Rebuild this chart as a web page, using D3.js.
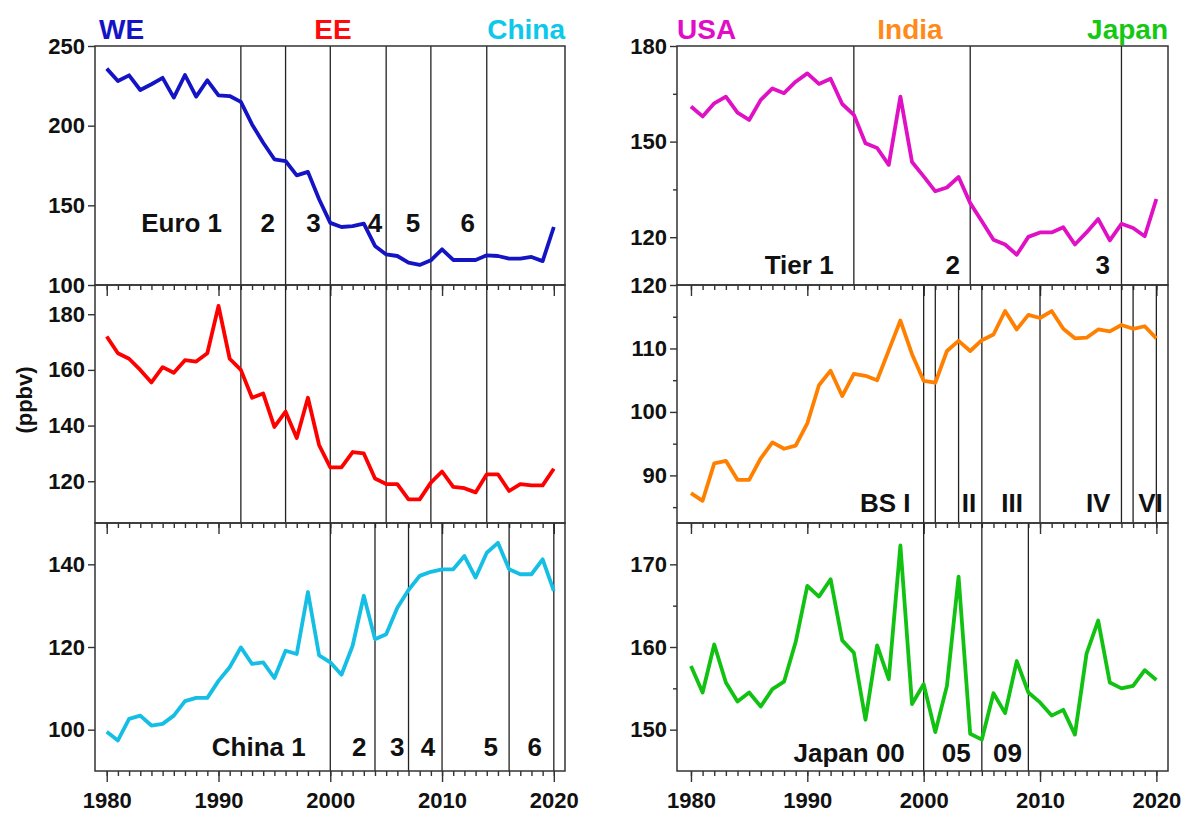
<!DOCTYPE html>
<html>
<head>
<meta charset="utf-8">
<script src="https://cdn.jsdelivr.net/npm/d3@7"></script>
<style>
    body { margin: 0; background: #fff; }
    svg { display: block; font-family: "Liberation Sans", Arial, sans-serif; font-weight: bold; }
</style>
</head>
<body>
<svg id="chart" width="1182" height="814"></svg>
<script>
// Years on the x axis
const years = d3.range(1980, 2021);
const decades = [1980, 1990, 2000, 2010, 2020];

// Annual mean values (ppbv), 1980-2020
const weValues = [235.8, 228, 231.6, 222.4, 226, 230, 217.6, 231.8, 218.2, 228.5,
    219, 218.6, 214.9, 200.8, 189.3, 178.9, 177.8, 168.8, 171, 153.8,
    139, 136.4, 137, 138.5, 124.5, 119.2, 118.2, 114, 112.6, 115.5,
    122.4, 115.7, 115.7, 115.7, 118.6, 118.2, 116.5, 116.5, 117.6, 115, 136.4];
const eeValues = [172, 166, 164, 160, 155.5, 161, 159, 163.5, 163, 166,
    183, 164, 160, 150, 151.5, 139.5, 145, 135.5, 150, 133,
    125, 125, 130.5, 130, 121, 119, 119, 113.5, 113.5, 119.5,
    123.5, 118, 117.5, 116, 122.5, 122.5, 116.5, 119, 118.5, 118.5, 124.5];
const chinaValues = [99.5, 97.4, 102.6, 103.4, 101, 101.4, 103.4, 106.9, 107.7, 107.7,
    111.8, 115.1, 119.9, 115.9, 116.3, 112.5, 119.1, 118.3, 133.3, 118,
    116.3, 113.3, 120.3, 132.4, 121.9, 123.1, 129.5, 133.8, 137.2, 138.2,
    138.8, 138.8, 142, 136.8, 142.8, 145.2, 138.8, 137.6, 137.6, 141.2, 133.6];
const usaValues = [161, 157.9, 162, 164.1, 159.1, 156.8, 163.1, 166.7, 165.2, 168.8,
    171.4, 168.1, 169.7, 161.8, 158.4, 149.5, 148, 142.7, 164.1, 143.6,
    139.1, 134.4, 135.6, 138.9, 130.7, 125, 119.2, 117.7, 114.5, 120.1,
    121.5, 121.5, 123.1, 117.7, 121.5, 125.7, 119, 124.2, 122.9, 120.3, 132];
const indiaValues = [87.2, 86, 91.9, 92.3, 89.3, 89.3, 92.7, 95.2, 94.2, 94.7,
    98.2, 104.2, 106.5, 102.5, 106, 105.7, 105, 109.7, 114.4, 109.1,
    104.9, 104.6, 109.6, 111.2, 109.6, 111.3, 112.2, 115.9, 113, 115.3,
    114.8, 115.9, 113.1, 111.6, 111.7, 113, 112.7, 113.7, 113.1, 113.5, 111.6];
const japanValues = [157.7, 154.5, 160.3, 155.7, 153.4, 154.5, 152.8, 154.9, 155.8, 160.6,
    167.4, 166.1, 168.2, 160.8, 159.3, 151.2, 160.2, 156.1, 172.3, 153.1,
    155.5, 149.7, 155.3, 168.5, 149.5, 148.8, 154.4, 152, 158.3, 154.5,
    153.3, 151.7, 152.4, 149.4, 159.2, 163.2, 155.7, 155, 155.3, 157.2, 156];

// Emission standard years (vertical lines) and their labels
const euroYears = [1992, 1996, 2000, 2005, 2009, 2014];
const chinaYears = [2000, 2004, 2007, 2010, 2016, 2020];
const usaYears = [1994, 2004, 2017];
const indiaYears = [2000, 2001, 2003, 2005, 2010, 2017, 2018, 2020];
const japanYears = [2000, 2005, 2009];

const euroLabels = ['Euro 1', '2', '3', '4', '5', '6'];
const chinaLabels = ['China 1', '2', '3', '4', '5', '6'];
const usaLabels = ['Tier 1', '2', '3'];
const indiaLabels = ['BS I', 'II', 'III', 'IV', 'VI'];
const japanLabels = ['Japan 00', '05', '09'];

// Layout
const cols = [
    { x0: 95, x1: 565, domain: [1978.95, 2021] },
    { x0: 677, x1: 1168, domain: [1978.8, 2021] }
];
const rows = [[46, 285], [285, 523], [523, 771]];

const panels = [
    { name: 'WE', values: weValues, col: 0, row: 0, domain: [100, 250], ticks: [100, 150, 200, 250], minor: [],
      color: '#1414c4', events: euroYears, labels: euroLabels, labelAt: [1986.7, 1994.4, 1998.5, 2004.0, 2007.4, 2012.3], labelY: 232 },
    { name: 'EE', values: eeValues, col: 0, row: 1, domain: [105, 190.5], ticks: [120, 140, 160, 180], minor: [],
      color: '#ff0000', events: euroYears, labels: [], labelAt: [], labelY: 0 },
    { name: 'China', values: chinaValues, col: 0, row: 2, domain: [90, 150], ticks: [100, 120, 140], minor: [],
      color: '#14bee4', events: chinaYears, labels: chinaLabels, labelAt: [1993.6, 2002.6, 2006.0, 2008.75, 2014.35, 2018.3], labelY: 756 },
    { name: 'USA', values: usaValues, col: 1, row: 0, domain: [105, 180], ticks: [120, 150, 180], minor: [135, 165],
      color: '#e010c4', events: usaYears, labels: usaLabels, labelAt: [1989.3, 2002.5, 2015.4], labelY: 274 },
    { name: 'India', values: indiaValues, col: 1, row: 1, domain: [82.5, 120], ticks: [90, 100, 110, 120], minor: [85, 95, 105, 115],
      color: '#ff8000', events: indiaYears, labels: indiaLabels, labelAt: [1996.7, 2003.9, 2007.6, 2015.0, 2019.5], labelY: 512 },
    { name: 'Japan', values: japanValues, col: 1, row: 2, domain: [145, 175], ticks: [150, 160, 170], minor: [155, 165],
      color: '#12c212', events: japanYears, labels: japanLabels, labelAt: [1993.6, 2002.8, 2007.2], labelY: 762 }
];

const svg = d3.select('#chart');

panels.forEach(p => {
    const col = cols[p.col];
    const row = rows[p.row];
    const x = d3.scaleLinear().domain(col.domain).range([col.x0, col.x1]);
    const y = d3.scaleLinear().domain(p.domain).range([row[1], row[0]]);
    const g = svg.append('g').attr('class', 'panel-' + p.name);

    // Standard lines
    g.selectAll('.event')
        .data(p.events)
        .join('line')
        .attr('class', 'event')
        .attr('x1', d => x(d)).attr('x2', d => x(d))
        .attr('y1', row[0]).attr('y2', row[1])
        .attr('stroke', '#222')
        .attr('stroke-width', 1.3);

    // Data line
    const line = d3.line().x(d => x(d[0])).y(d => y(d[1]));
    g.append('path')
        .datum(years.map((yr, i) => [yr, p.values[i]]))
        .attr('d', line)
        .attr('fill', 'none')
        .attr('stroke', p.color)
        .attr('stroke-width', 3.8)
        .attr('stroke-linejoin', 'round');

    // Frame
    g.append('rect')
        .attr('x', col.x0).attr('y', row[0])
        .attr('width', col.x1 - col.x0).attr('height', row[1] - row[0])
        .attr('fill', 'none')
        .attr('stroke', '#333')
        .attr('stroke-width', 1.5);

    // Y axis (major + minor)
    g.append('g')
        .attr('class', 'yaxis')
        .attr('transform', `translate(${col.x0},0)`)
        .call(d3.axisLeft(y).tickValues(p.ticks).tickSize(7).tickPadding(3).tickFormat(d3.format('d')));
    if (p.minor.length) {
        g.append('g')
            .attr('transform', `translate(${col.x0},0)`)
            .call(d3.axisLeft(y).tickValues(p.minor).tickSize(4).tickFormat(''));
    }

    // X axis at the bottom of each panel (yearly minor ticks, decade majors)
    g.append('g')
        .attr('transform', `translate(0,${row[1]})`)
        .call(d3.axisBottom(x).tickValues(years).tickSize(5).tickFormat(''));
    g.append('g')
        .attr('class', 'xaxis')
        .attr('transform', `translate(0,${row[1]})`)
        .call(d3.axisBottom(x).tickValues(decades).tickSize(11).tickPadding(10)
            .tickFormat(p.row === 2 ? d3.format('d') : ''));

    // Standard labels
    g.selectAll('.std-label')
        .data(p.labels)
        .join('text')
        .attr('class', 'std-label')
        .attr('x', (d, i) => x(p.labelAt[i]))
        .attr('y', p.labelY)
        .attr('text-anchor', 'middle')
        .attr('font-size', 26)
        .attr('fill', '#111')
        .text(d => d);
});

// Axis styling
svg.selectAll('.domain').remove();
svg.selectAll('.tick line').attr('stroke', '#333').attr('stroke-width', 1.4);
svg.selectAll('.tick text').attr('fill', '#111').attr('font-size', 22);

// Region titles
const titles = [
    { text: 'WE', color: '#1414c4', x: 99, anchor: 'start' },
    { text: 'EE', color: '#ff0a0a', x: 333, anchor: 'middle' },
    { text: 'China', color: '#0cc8ea', x: 565, anchor: 'end' },
    { text: 'USA', color: '#e20cc6', x: 677, anchor: 'start' },
    { text: 'India', color: '#ff8a1a', x: 910, anchor: 'middle' },
    { text: 'Japan', color: '#14c814', x: 1168, anchor: 'end' }
];
svg.selectAll('.title')
    .data(titles)
    .join('text')
    .attr('class', 'title')
    .attr('x', d => d.x)
    .attr('y', 39)
    .attr('text-anchor', d => d.anchor)
    .attr('font-size', 28)
    .attr('fill', d => d.color)
    .text(d => d.text);

// Units label
svg.append('text')
    .attr('transform', 'translate(24,400) rotate(-90)')
    .attr('text-anchor', 'middle')
    .attr('dy', '0.35em')
    .attr('font-size', 22)
    .attr('fill', '#111')
    .text('(ppbv)');
</script>
</body>
</html>
